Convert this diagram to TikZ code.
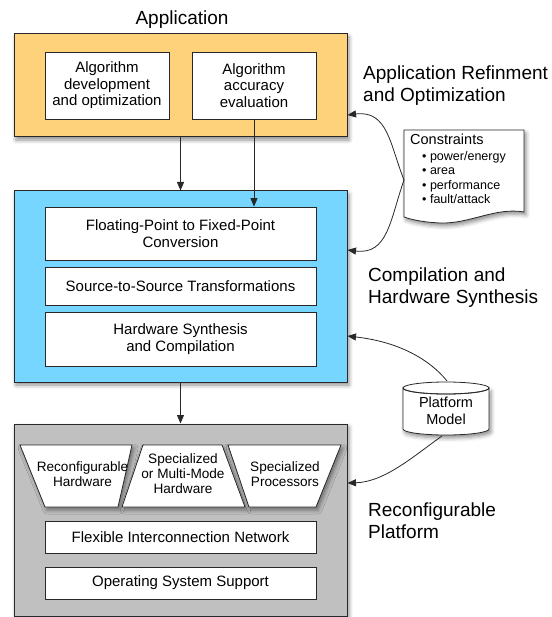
\documentclass[tikz,border=0pt]{standalone}
\usepackage{fontspec}
\setmainfont{Liberation Sans}
\usetikzlibrary{arrows.meta,shadows.blur,calc}
\definecolor{appyellow}{RGB}{253,210,122}
\definecolor{compblue}{RGB}{118,214,255}
\definecolor{platgray}{RGB}{192,192,192}
\definecolor{edge}{RGB}{40,40,40}
\begin{document}
\begin{tikzpicture}[x=1pt,y=-1pt,
  shadowed/.style={blur shadow={shadow xshift=2pt, shadow yshift=-3pt, shadow blur radius=4pt, shadow opacity=45}},
  bigbox/.style={draw=edge, line width=1pt, shadowed, inner sep=0pt},
  inbox/.style={draw=edge, fill=white, line width=0.8pt, align=center, inner sep=0pt, font=\fontsize{15}{16.5}\selectfont},
  trap/.style={draw=edge, fill=white, line width=0.8pt, shadowed},
  traptext/.style={align=center, inner sep=0pt, font=\fontsize{13.6}{15}\selectfont},
  sidelabel/.style={anchor=west, align=left, inner sep=0pt, font=\fontsize{19}{22}\selectfont},
  arr/.style={-{Triangle[length=8.5pt,width=7pt]}, line width=0.8pt, draw=edge},
]
\useasboundingbox (0,0) rectangle (551,617);

% Application
\node[font=\fontsize{19}{22}\selectfont] (apptitle) at (182,20) {Application};
\node[bigbox, fill=appyellow, minimum width=333pt, minimum height=103pt] (app) at (180.5,85.5) {};
\node[inbox, minimum width=124pt, minimum height=67pt] (alg1) at (107,85.5) {Algorithm\\development\\and optimization};
\node[inbox, minimum width=124pt, minimum height=67pt] (alg2) at (254,85.5) {Algorithm\\accuracy\\evaluation};

% Compilation
\node[bigbox, fill=compblue, minimum width=333pt, minimum height=191pt] (comp) at (180.5,286.5) {};
\node[inbox, minimum width=271pt, minimum height=53pt] (fp) at (180.5,233.5) {Floating-Point to Fixed-Point\\Conversion};
\node[inbox, minimum width=271pt, minimum height=38pt] (s2s) at (180.5,286) {Source-to-Source Transformations};
\node[inbox, minimum width=271pt, minimum height=54pt] (hws) at (180.5,339) {Hardware Synthesis\\and Compilation};

% Platform
\node[bigbox, fill=platgray, minimum width=333pt, minimum height=192pt] (plat) at (180.5,520) {};
\path[trap] (20,445) -- (132,445) -- (118,507) -- (45,507) -- cycle;
\path[trap] (143,445) -- (222,445) -- (245,507) -- (122,507) -- cycle;
\path[trap] (228,445) -- (341,445) -- (316,507) -- (249,507) -- cycle;
\node[traptext] (tr1) at (82.5,474.5) {Reconfigurable\\Hardware};
\node[traptext] (tr2) at (183,474) {Specialized\\or Multi-Mode\\Hardware};
\node[traptext] (tr3) at (285,474.5) {Specialized\\Processors};
\node[inbox, minimum width=271pt, minimum height=32pt] (flex) at (180.5,537) {Flexible Interconnection Network};
\node[inbox, minimum width=271pt, minimum height=32pt] (os) at (180.5,583) {Operating System Support};

% Side labels
\node[sidelabel] (lab1) at (363,86) {Application Refinment\\and Optimization};
\node[sidelabel] (lab2) at (368,287.5) {Compilation and\\Hardware Synthesis};
\node[sidelabel] (lab3) at (368,521) {Reconfigurable\\Platform};

% Constraints document
\path[draw=edge, fill=white, line width=0.8pt, shadowed] (404,130) -- (524,130) -- (524,212)
  .. controls (495,207) and (470,224) .. (440,223)
  .. controls (420,222) and (410,219) .. (404,217) -- cycle;
\node[anchor=west, inner sep=0pt, font=\fontsize{14.5}{16}\selectfont] (cons) at (410,139) {Constraints};
\node[anchor=west, align=left, inner sep=0pt, font=\fontsize{12.5}{14.5}\selectfont] (consitems) at (422,177.5)
  {• power/energy\\• area\\• performance\\• fault/attack};
\coordinate (cl) at (404,180);

% Platform model cylinder
\path[draw=edge, fill=white, line width=0.8pt, shadowed] (403,388) -- (403,429)
  arc[start angle=180, end angle=0, x radius=43, y radius=6] -- (489,388)
  arc[start angle=0, end angle=180, x radius=43, y radius=6] -- cycle;
\draw[edge, line width=0.8pt] (446,388) ellipse[x radius=43, y radius=6];
\node[align=center, inner sep=0pt, font=\fontsize{14.5}{17}\selectfont] (pm) at (446,411) {Platform\\Model};
\coordinate (pmtop) at (447,381);
\coordinate (pmbot) at (442,436);

% Arrows
\draw[arr] (app.south) -- (comp.north);
\draw[arr] (alg2.south) -- (alg2.south |- fp.north);
\draw[arr] (comp.south) -- (plat.north);
\draw[arr] (cl) .. controls (390,145) and (388,110) .. ([yshift=-29.5pt]app.east);
\draw[arr] (cl) .. controls (390,220) and (388,255) .. ([yshift=36.5pt]comp.east);
\draw[arr] (pmtop) .. controls (430,360) and (400,342) .. ([yshift=-49.5pt]comp.east);
\draw[arr] (pmbot) .. controls (415,455) and (385,482) .. ([yshift=37pt]plat.east);
\end{tikzpicture}
\end{document}
